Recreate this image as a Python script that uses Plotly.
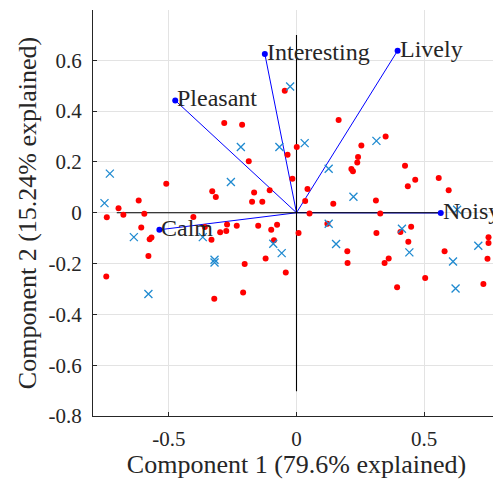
import plotly.graph_objects as go

# Variable loadings (biplot vectors)
var_names = ["Pleasant", "Interesting", "Lively", "Calm", "Noisy"]
var_x = [-0.475, -0.124, 0.396, -0.537, 0.565]
var_y = [0.442, 0.625, 0.638, -0.067, -0.001]

# Observation scores (red dots)
obs_x = [-0.046, -0.283, -0.213, 0.165, 0.349,
         0.001, -0.035, -0.187, 0.254, 0.241, 0.238, 0.215, 0.221, -0.016, 0.043,
         -0.510, -0.330, -0.316, -0.166, -0.105, -0.174, -0.134, 0.034, 0.144, 0.051,
         0.311, 0.328, 0.425, 0.465, 0.436, 0.557, 0.596, -0.618, -0.697, -0.678,
         -0.596, -0.743, -0.608, -0.568, -0.575, -0.580, -0.404, -0.359, -0.333, -0.299,
         -0.275, -0.272, -0.234, -0.150, -0.099, -0.076, -0.088, 0.008, -0.121, -0.203,
         -0.042, -0.745, 0.121, 0.199, 0.200, 0.313, 0.407, 0.449, 0.438, 0.361,
         0.345, 0.504, 0.580, 0.752, 0.752, 0.748,
         -0.322, -0.209, 0.394, 0.732]
obs_y = [0.480, 0.353, 0.346, 0.365, 0.300,
         0.259, 0.228, 0.203, 0.265, 0.219, 0.198, 0.172, 0.163, 0.134, 0.093,
         0.114, 0.085, 0.062, 0.080, 0.089, 0.043, 0.043, 0.046, 0.035, -0.003,
         0.048, -0.003, 0.185, 0.130, 0.104, 0.137, 0.089, 0.048, 0.018, -0.008,
         -0.004, -0.018, -0.058, -0.097, -0.104, -0.170, -0.017, -0.056, -0.106, -0.077,
         -0.072, -0.046, -0.051, -0.051, -0.067, -0.047, -0.108, -0.080, -0.180, -0.202,
         -0.235, -0.251, -0.043, -0.152, -0.198, -0.080, -0.076, -0.055, -0.114, -0.180,
         -0.198, -0.257, -0.152, -0.096, -0.119, -0.181,
         -0.339, -0.314, -0.293, -0.280]

# Additional projected points (blue crosses)
new_x = [-0.025, -0.218, -0.067, 0.032, 0.313, -0.731, -0.257, 0.126, -0.752, 0.223,
         0.629, -0.637, -0.367, 0.126, 0.413, -0.091, -0.058, 0.155, 0.442, 0.712,
         -0.321, -0.321, 0.613, -0.580, 0.623]
new_y = [0.497, 0.259, 0.259, 0.274, 0.283, 0.154, 0.121, 0.173, 0.038, 0.063,
         0.012, -0.096, -0.096, -0.043, -0.063, -0.122, -0.159, -0.123, -0.156, -0.130,
         -0.185, -0.196, -0.192, -0.320, -0.298]

# Axis-line extents drawn through origin
hline_x = [-0.704, 0.565]
vline_y = [-0.703, 0.70]

x_ticks = [-0.5, 0, 0.5]
x_ticktext = ["-0.5", "0", "0.5"]
y_ticks = [-0.8, -0.6, -0.4, -0.2, 0, 0.2, 0.4, 0.6]
y_ticktext = ["-0.8", "-0.6", "-0.4", "-0.2", "0", "0.2", "0.4", "0.6"]

FONT = "Liberation Serif"
TXT = "#262626"

fig = go.Figure()

# vectors
for vx, vy in zip(var_x, var_y):
    fig.add_trace(go.Scatter(x=[0, vx], y=[0, vy], mode="lines",
                             line=dict(color="#0000ff", width=1), hoverinfo="skip"))

# black axis lines
fig.add_trace(go.Scatter(x=hline_x, y=[0, 0], mode="lines",
                         line=dict(color="black", width=1.1), hoverinfo="skip"))
fig.add_trace(go.Scatter(x=[0, 0], y=vline_y, mode="lines",
                         line=dict(color="black", width=1.1), hoverinfo="skip"))

# vector endpoints
fig.add_trace(go.Scatter(x=var_x, y=var_y, mode="markers",
                         marker=dict(color="#0000ff", size=6)))

# observations
fig.add_trace(go.Scatter(x=obs_x, y=obs_y, mode="markers",
                         marker=dict(color="#ff0000", size=6)))

# crosses
fig.add_trace(go.Scatter(x=new_x, y=new_y, mode="markers",
                         marker=dict(symbol="x-thin", size=8, color="#1f8ad0",
                                     line=dict(color="#1f8ad0", width=1.3))))

for name, vx, vy in zip(var_names, var_x, var_y):
    fig.add_annotation(x=vx, y=vy, text=name, showarrow=False, xanchor="left",
                       yanchor="middle", xshift=0, yshift=2,
                       font=dict(family=FONT, size=24, color=TXT))

# page body adds an 8px offset, so the figure is 8px smaller and margins shifted
fig.update_layout(
    width=493, height=471,
    margin=dict(l=85, r=1, t=2, b=63),
    plot_bgcolor="white", paper_bgcolor="white",
    showlegend=False,
    font=dict(family=FONT, size=18, color=TXT),
)
fig.update_xaxes(range=[-0.797, 0.797], tickvals=x_ticks, ticktext=x_ticktext,
                 automargin=False,
                 showgrid=True, gridcolor="#e3e3e3", gridwidth=1, zeroline=False,
                 showline=True, linecolor=TXT, linewidth=1, mirror=False,
                 ticks="inside", ticklen=4, tickcolor=TXT,
                 ticklabelstandoff=4,
                 tickfont=dict(family=FONT, size=21, color=TXT),
                 title=dict(text="Component 1 (79.6% explained)", standoff=3,
                            font=dict(family=FONT, size=26, color=TXT)))
fig.update_yaxes(range=[-0.8, 0.798], tickvals=y_ticks, ticktext=y_ticktext,
                 automargin=False,
                 showgrid=True, gridcolor="#e3e3e3", gridwidth=1, zeroline=False,
                 showline=True, linecolor=TXT, linewidth=1, mirror=False,
                 ticks="inside", ticklen=4, tickcolor=TXT,
                 ticklabelstandoff=6,
                 tickfont=dict(family=FONT, size=21, color=TXT),
                 title=dict(text="Component 2 (15.24% explained)", standoff=4,
                            font=dict(family=FONT, size=26, color=TXT)))

fig.write_html("out.html")
